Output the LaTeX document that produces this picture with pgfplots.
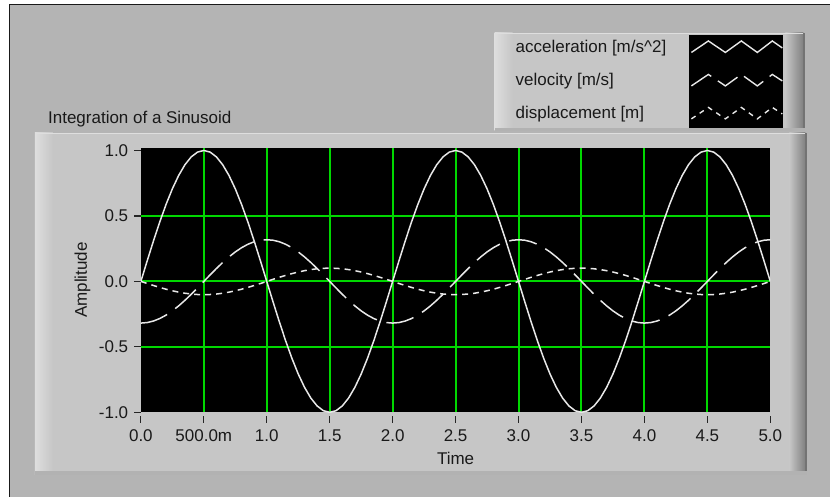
\documentclass[border=0pt]{standalone}
\usepackage{fontspec}
\setmainfont{Liberation Sans}
\usepackage{pgfplots}
\pgfplotsset{compat=1.18}
\usepackage{pgfplotstable}
\definecolor{outerbg}{RGB}{180,180,180}
\definecolor{panel}{RGB}{198,198,198}
\definecolor{hilite}{RGB}{222,222,222}
\definecolor{shadow}{RGB}{128,128,128}
\definecolor{gridgreen}{RGB}{0,215,0}
\definecolor{trace}{RGB}{232,232,232}
\newcommand\lv{\fontsize{17}{20}\selectfont}

\pgfplotstableread{
t a v d
0.00 0 -0.3183 0
0.05 0.1564 -0.3144 -0.0158
0.10 0.3090 -0.3027 -0.0313
0.15 0.4540 -0.2836 -0.0460
0.20 0.5878 -0.2575 -0.0596
0.25 0.7071 -0.2251 -0.0716
0.30 0.8090 -0.1871 -0.0820
0.35 0.8910 -0.1445 -0.0903
0.40 0.9511 -0.0984 -0.0964
0.45 0.9877 -0.0498 -0.1001
0.50 1 0 -0.1013
0.55 0.9877 0.0498 -0.1001
0.60 0.9511 0.0984 -0.0964
0.65 0.8910 0.1445 -0.0903
0.70 0.8090 0.1871 -0.0820
0.75 0.7071 0.2251 -0.0716
0.80 0.5878 0.2575 -0.0596
0.85 0.4540 0.2836 -0.0460
0.90 0.3090 0.3027 -0.0313
0.95 0.1564 0.3144 -0.0158
1.00 0 0.3183 0
1.05 -0.1564 0.3144 0.0158
1.10 -0.3090 0.3027 0.0313
1.15 -0.4540 0.2836 0.0460
1.20 -0.5878 0.2575 0.0596
1.25 -0.7071 0.2251 0.0716
1.30 -0.8090 0.1871 0.0820
1.35 -0.8910 0.1445 0.0903
1.40 -0.9511 0.0984 0.0964
1.45 -0.9877 0.0498 0.1001
1.50 -1 0 0.1013
1.55 -0.9877 -0.0498 0.1001
1.60 -0.9511 -0.0984 0.0964
1.65 -0.8910 -0.1445 0.0903
1.70 -0.8090 -0.1871 0.0820
1.75 -0.7071 -0.2251 0.0716
1.80 -0.5878 -0.2575 0.0596
1.85 -0.4540 -0.2836 0.0460
1.90 -0.3090 -0.3027 0.0313
1.95 -0.1564 -0.3144 0.0158
2.00 0 -0.3183 0
2.05 0.1564 -0.3144 -0.0158
2.10 0.3090 -0.3027 -0.0313
2.15 0.4540 -0.2836 -0.0460
2.20 0.5878 -0.2575 -0.0596
2.25 0.7071 -0.2251 -0.0716
2.30 0.8090 -0.1871 -0.0820
2.35 0.8910 -0.1445 -0.0903
2.40 0.9511 -0.0984 -0.0964
2.45 0.9877 -0.0498 -0.1001
2.50 1 0 -0.1013
2.55 0.9877 0.0498 -0.1001
2.60 0.9511 0.0984 -0.0964
2.65 0.8910 0.1445 -0.0903
2.70 0.8090 0.1871 -0.0820
2.75 0.7071 0.2251 -0.0716
2.80 0.5878 0.2575 -0.0596
2.85 0.4540 0.2836 -0.0460
2.90 0.3090 0.3027 -0.0313
2.95 0.1564 0.3144 -0.0158
3.00 0 0.3183 0
3.05 -0.1564 0.3144 0.0158
3.10 -0.3090 0.3027 0.0313
3.15 -0.4540 0.2836 0.0460
3.20 -0.5878 0.2575 0.0596
3.25 -0.7071 0.2251 0.0716
3.30 -0.8090 0.1871 0.0820
3.35 -0.8910 0.1445 0.0903
3.40 -0.9511 0.0984 0.0964
3.45 -0.9877 0.0498 0.1001
3.50 -1 0 0.1013
3.55 -0.9877 -0.0498 0.1001
3.60 -0.9511 -0.0984 0.0964
3.65 -0.8910 -0.1445 0.0903
3.70 -0.8090 -0.1871 0.0820
3.75 -0.7071 -0.2251 0.0716
3.80 -0.5878 -0.2575 0.0596
3.85 -0.4540 -0.2836 0.0460
3.90 -0.3090 -0.3027 0.0313
3.95 -0.1564 -0.3144 0.0158
4.00 0 -0.3183 0
4.05 0.1564 -0.3144 -0.0158
4.10 0.3090 -0.3027 -0.0313
4.15 0.4540 -0.2836 -0.0460
4.20 0.5878 -0.2575 -0.0596
4.25 0.7071 -0.2251 -0.0716
4.30 0.8090 -0.1871 -0.0820
4.35 0.8910 -0.1445 -0.0903
4.40 0.9511 -0.0984 -0.0964
4.45 0.9877 -0.0498 -0.1001
4.50 1 0 -0.1013
4.55 0.9877 0.0498 -0.1001
4.60 0.9511 0.0984 -0.0964
4.65 0.8910 0.1445 -0.0903
4.70 0.8090 0.1871 -0.0820
4.75 0.7071 0.2251 -0.0716
4.80 0.5878 0.2575 -0.0596
4.85 0.4540 0.2836 -0.0460
4.90 0.3090 0.3027 -0.0313
4.95 0.1564 0.3144 -0.0158
5.00 0 0.3183 0
}\sinedata

\begin{document}
\begin{tikzpicture}[x=1pt,y=1pt]
\begin{scope}[shift={(0pt,497pt)},y=-1pt]
% outer background and frame
\fill[white] (0,0) rectangle (831,497);
\fill[outerbg] (9,4) rectangle (831,497);
\draw[black!90,line width=1.5pt] (9.75,497) -- (9.75,4.75) -- (831,4.75);
% legend panel
\fill[panel] (495,33) rectangle (806,131);
\shade[left color=hilite,right color=panel] (495,33) rectangle (513,131);
\shade[left color=panel,right color=shadow] (786,33) rectangle (804,131);
\fill[black!55] (804,33) rectangle (806,131);
\fill[black!30] (495,128.5) rectangle (806,131);
\draw[hilite,line width=1.5pt] (495,33.75) -- (804,33.75);
\fill[black] (690,35) rectangle (784,128);
\node[anchor=base west,font=\lv,text=black!90,inner sep=0pt] at (516,53) {acceleration [m/s\textasciicircum 2]};
\node[anchor=base west,font=\lv,text=black!90,inner sep=0pt] at (516,86) {velocity [m/s]};
\node[anchor=base west,font=\lv,text=black!90,inner sep=0pt] at (516,119) {displacement [m]};
\draw[trace,line width=1.4pt] (692,52.5) -- (709,41) -- (726,52.5) -- (742,41) -- (758,52.5) -- (773,41) -- (783,48);
\draw[trace,line width=1.4pt,dash pattern=on 24pt off 8pt] (692,86) -- (709,74.5) -- (726,86) -- (742,74.5) -- (758,86) -- (773,74.5) -- (783,81);
\draw[trace,line width=1.4pt,dash pattern=on 5pt off 5pt] (692,119) -- (709,107.5) -- (726,119) -- (742,107.5) -- (758,119) -- (773,107.5) -- (783,114);
% graph panel
\fill[panel] (35,133) rectangle (808,475);
\shade[left color=hilite,right color=panel] (35,133) rectangle (53,475);
\shade[left color=panel,right color=shadow] (790,133) rectangle (806,475);
\fill[black!55] (806,133) rectangle (808,475);
\fill[black!30] (35,471.5) rectangle (808,475);
\draw[hilite,line width=1.5pt] (35,133.75) -- (806,133.75);
\node[anchor=base west,font=\lv,text=black!90,inner sep=0pt] at (48,124) {Integration of a Sinusoid};
\end{scope}
\begin{axis}[
  at={(141pt,84.3pt)}, anchor=south west,
  scale only axis, width=630pt, height=264.7pt,
  xmin=0, xmax=5, ymin=-1, ymax=1.02,
  axis background/.style={fill=black},
  axis line style={draw=none},
  xtick={0,0.5,...,5},
  xticklabels={0.0,500.0m,1.0,1.5,2.0,2.5,3.0,3.5,4.0,4.5,5.0},
  ytick={-1,-0.5,0,0.5,1},
  yticklabels={-1.0,-0.5,0.0,0.5,1.0},
  extra x ticks={0.5,1,1.5,2,2.5,3,3.5,4,4.5},
  extra x tick labels={},
  extra y ticks={-0.5,0,0.5},
  extra y tick labels={},
  extra tick style={grid=major, major grid style={gridgreen,line width=2pt}, major tick length=0pt},
  major tick length=6.5pt,
  tick align=outside,
  xtick pos=bottom, ytick pos=left,
  xtick style={yshift=-4pt},
  major tick style={black!85,line width=1.2pt},
  tick label style={font=\lv, text=black!90},
  xticklabel style={anchor=base, yshift=-23pt, inner sep=0pt},
  yticklabel style={anchor=east, xshift=-6pt, inner sep=0pt},
  /pgf/number format/assume math mode=true,
  xlabel={Time}, ylabel={Amplitude},
  xlabel style={at={(axis description cs:0.5,-0.1962)}, anchor=base, font=\lv, text=black!90, inner sep=0pt},
  ylabel style={at={(axis description cs:-0.0857,0.5)}, anchor=base, font=\lv, text=black!90, inner sep=0pt},
]
\addplot[trace, line width=1.5pt] table[x=t,y=a]{\sinedata};
\addplot[trace, line width=1.5pt, dash pattern=on 28pt off 10pt] table[x=t,y=v]{\sinedata};
\addplot[trace, line width=1.5pt, dash pattern=on 6pt off 5pt] table[x=t,y=d]{\sinedata};
\end{axis}
\end{tikzpicture}
\end{document}
